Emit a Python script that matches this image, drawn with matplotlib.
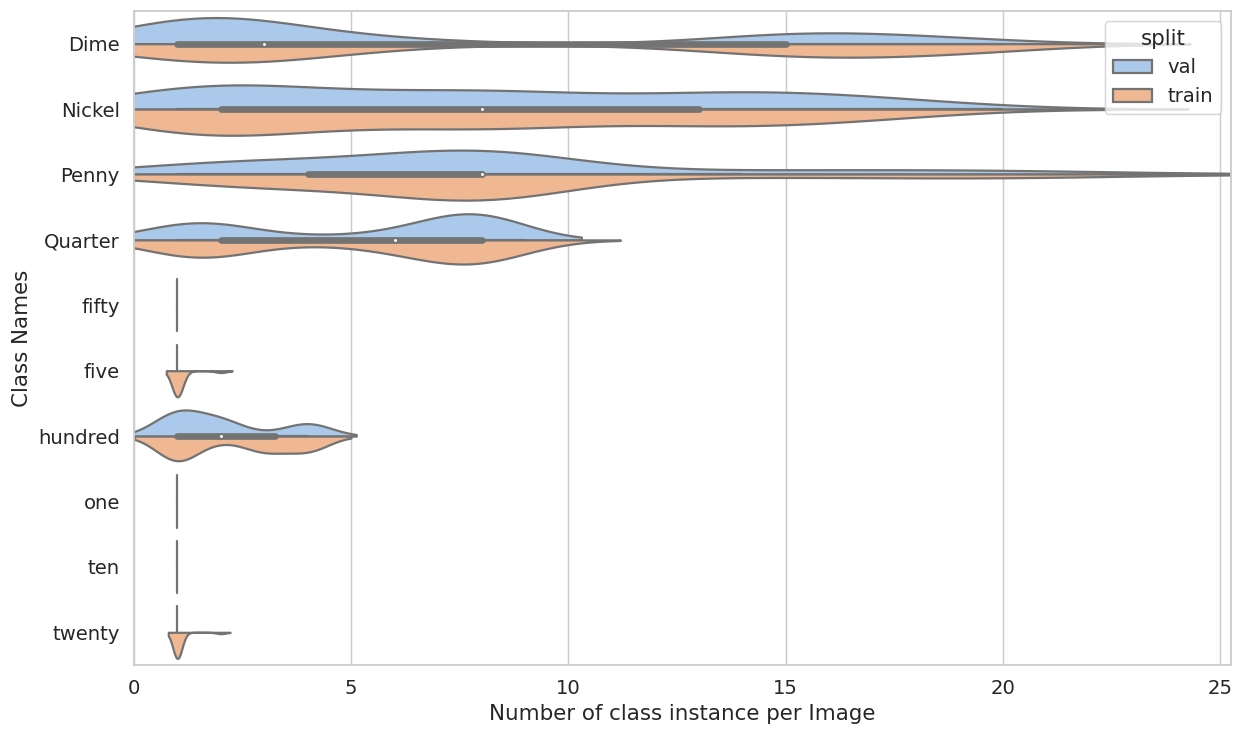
import colorsys
import numpy as np
import matplotlib
matplotlib.use("Agg")
import matplotlib.pyplot as plt
from matplotlib.patches import Patch
import seaborn as sns

CLASSES = ["Dime", "Nickel", "Penny", "Quarter", "fifty", "five",
           "hundred", "one", "ten", "twenty"]
SPLITS = ["val", "train"]

# number of images holding 1, 2, 3, ... instances of the class
dime_val = [212, 90, 100, 36, 30, 18, 12, 6, 0, 0, 0, 0, 12, 24, 54, 42, 40, 30, 18, 18]
dime_train = [85, 35, 76, 14, 10, 7, 4, 4, 0, 0, 0, 4, 10, 18, 39, 32, 32, 24, 21, 25]
nickel_val = [18, 14, 7, 6, 6, 5, 5, 12, 7, 4, 3, 4, 8, 7, 7, 6, 5, 3, 2, 1]
nickel_train = [21, 14, 7, 6, 6, 5, 5, 12, 7, 5, 3, 4, 8, 7, 6, 5, 4, 3, 1]
penny_val = [8, 4, 3, 10, 3, 3, 3, 32, 2, 2, 1, 1, 1, 2, 1, 2, 1, 2, 1, 2, 1, 1, 0, 1]
penny_train = [8, 5, 4, 13, 4, 4, 4, 44, 3, 2, 2, 1, 1, 2, 1, 2, 1, 2, 2, 2, 2, 1, 1, 0, 1]
quarter_val = [20, 20, 0, 5, 2, 6, 15, 43]
quarter_train = [22, 22, 2, 5, 4, 12, 20, 35, 6]
fifty_val = [2]
fifty_train = [6]
five_val = [5]
five_train = [28, 2]
hundred_val = [22, 14, 1, 12]
hundred_train = [46, 7, 27, 27]
one_val = [3]
one_train = [9]
ten_val = [2]
ten_train = [5]
twenty_val = [4]
twenty_train = [38, 2]

counts = {
    "Dime": (dime_val, dime_train),
    "Nickel": (nickel_val, nickel_train),
    "Penny": (penny_val, penny_train),
    "Quarter": (quarter_val, quarter_train),
    "fifty": (fifty_val, fifty_train),
    "five": (five_val, five_train),
    "hundred": (hundred_val, hundred_train),
    "one": (one_val, one_train),
    "ten": (ten_val, ten_train),
    "twenty": (twenty_val, twenty_train),
}

sns.set_theme(style="whitegrid", font_scale=1.2)

pal = sns.color_palette("pastel", 2, desat=0.75)
lum = min(colorsys.rgb_to_hls(*c)[1] for c in pal) * 0.6
gray = (lum, lum, lum)
LW = 1.5
WIDTH = 0.4
DPI = 107


def expand(c):
    return np.repeat(np.arange(1, len(c) + 1), c).astype(float)


def kde(data, cut=2, gridsize=100):
    # gaussian kde with scott bandwidth
    bw = len(data) ** (-1 / 5) * data.std(ddof=1)
    support = np.linspace(data.min() - cut * bw, data.max() + cut * bw, gridsize)
    z = (support[:, None] - data[None, :]) / bw
    dens = np.exp(-0.5 * z ** 2).sum(axis=1) / (len(data) * bw * np.sqrt(2 * np.pi))
    return support, dens


fig = plt.figure(figsize=(1242 / DPI, 731 / DPI), dpi=DPI)
ax = fig.add_axes([134 / 1242, 1 - 665 / 731, 1097 / 1242, 654 / 731])

for i, name in enumerate(CLASSES):
    halves = [expand(c) for c in counts[name]]
    curves = [None if np.unique(d).size == 1 else kde(d) for d in halves]
    peaks = [c[1].max() for c in curves if c is not None]
    peak = max(peaks) if peaks else 1.0

    for j, d in enumerate(halves):
        if curves[j] is None:
            v = d[0]
            ys = [i - WIDTH, i] if j == 0 else [i, i + WIDTH]
            ax.plot([v, v], ys, color=gray, lw=LW)
            continue
        x, dens = curves[j]
        w = dens / peak * WIDTH
        if j == 0:
            ax.fill_between(x, i - w, i, facecolor=pal[0], edgecolor=gray, lw=LW)
        else:
            ax.fill_between(x, i, i + w, facecolor=pal[1], edgecolor=gray, lw=LW)

    # box drawn on the pooled data of both splits
    if curves[0] is not None:
        allv = np.concatenate(halves)
        q25, q50, q75 = np.percentile(allv, [25, 50, 75])
        lim = 1.5 * (q75 - q25)
        h1 = allv[allv >= q25 - lim].min()
        h2 = allv[allv <= q75 + lim].max()
        ax.plot([h1, h2], [i, i], color=gray, lw=LW)
        ax.plot([q25, q75], [i, i], color=gray, lw=LW * 3, solid_capstyle="round")
        ax.scatter(q50, i, zorder=3, color="white", edgecolor=gray, s=(LW * 2) ** 2)

ax.set_yticks(range(len(CLASSES)))
ax.set_yticklabels(CLASSES)
ax.set_ylim(len(CLASSES) - 0.5, -0.5)
ax.set_xlim(0, 25.25)
ax.yaxis.grid(False)
ax.set_xlabel("Number of class instance per Image")
ax.set_ylabel("Class Names")

handles = [Patch(facecolor=pal[k], edgecolor=gray, lw=LW, label=s) for k, s in enumerate(SPLITS)]
ax.legend(handles=handles, title="split", loc="upper right")

fig.savefig("out.png", dpi=DPI)
